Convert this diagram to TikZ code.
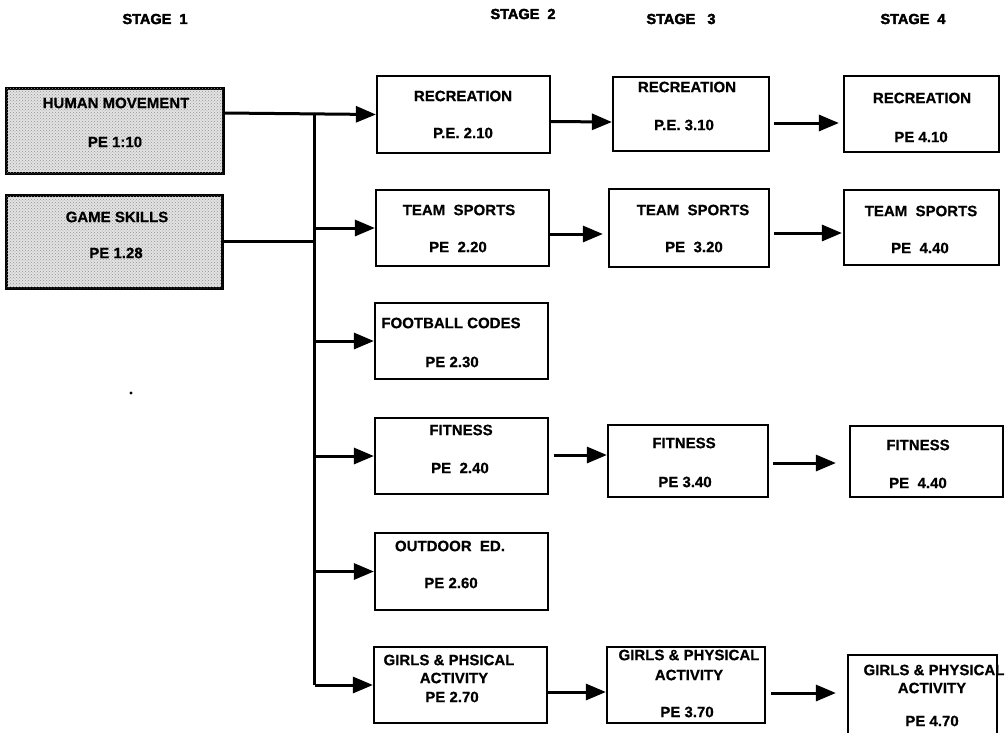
\documentclass[tikz,border=0pt]{standalone}
\usepackage{fontspec}
\setmainfont{Liberation Sans}[BoldFeatures={FakeBold=0.5}]
\newfontfamily\heavyfont{Liberation Sans}[FakeBold=2.5]
\usetikzlibrary{arrows.meta,calc,patterns}
\begin{document}
\begin{tikzpicture}[x=1pt,y=-1pt,
  box/.style={draw, line width=2.2pt, inner sep=0pt},
  stbox/.style={box, line width=3pt, fill=gray!22, postaction={pattern=crosshatch dots, pattern color=gray!85}},
  lbl/.style={font=\fontsize{15}{17}\selectfont\bfseries, inner sep=0pt},
  stage/.style={font=\heavyfont\fontsize{14.5}{16}\selectfont\bfseries, inner sep=0pt},
  line/.style={line width=3pt},
  arr/.style={line width=3pt, -{Triangle[length=20pt,width=16pt]}}
]
\path[use as bounding box] (0,0) rectangle (1006,732);
\clip (0,0) rectangle (1006,732);

% stage headings
\node[stage] (s1) at (155,19) {STAGE\ \ 1};
\node[stage] (s2) at (523,14) {STAGE\ \ 2};
\node[stage] (s3) at (681,19) {STAGE\ \ \ 3};
\node[stage] (s4) at (913,19) {STAGE\ \ 4};

% stage 1 boxes
\node[stbox, minimum width=217pt, minimum height=85pt] (hm) at (114.5,130.5) {};
\node[stbox, minimum width=216pt, minimum height=93pt] (gs) at (114,241.5) {};
\node[lbl] (hmt1) at (116,103) {HUMAN MOVEMENT};
\node[lbl] (hmt2) at (115,142) {PE 1:10};
\node[lbl] (gst1) at (117,217) {GAME SKILLS};
\node[lbl] (gst2) at (116,253) {PE 1.28};

% stage 2 boxes
\node[box, minimum width=173pt, minimum height=77pt] (rec2) at (463.5,114.5) {};
\node[box, minimum width=173pt, minimum height=76pt] (team2) at (462.5,228) {};
\node[box, minimum width=173pt, minimum height=76pt] (foot2) at (461.5,341) {};
\node[box, minimum width=173pt, minimum height=76pt] (fit2) at (461.5,456) {};
\node[box, minimum width=173pt, minimum height=77pt] (out2) at (461.5,571.5) {};
\node[box, minimum width=173pt, minimum height=76pt] (girl2) at (460.5,685) {};

\node[lbl] (rec2t1) at (463,96) {RECREATION};
\node[lbl] (rec2t2) at (463,133) {P.E. 2.10};
\node[lbl] (team2t1) at (459,210) {TEAM\ \ SPORTS};
\node[lbl] (team2t2) at (458,247) {PE\ \ 2.20};
\node[lbl] (foot2t1) at (451,323) {FOOTBALL CODES};
\node[lbl] (foot2t2) at (452,362) {PE 2.30};
\node[lbl] (fit2t1) at (461,430) {FITNESS};
\node[lbl] (fit2t2) at (460,468) {PE\ \ 2.40};
\node[lbl] (out2t1) at (450,546) {OUTDOOR\ \ ED.};
\node[lbl] (out2t2) at (451,583) {PE 2.60};
\node[lbl] (girl2t1) at (449,660) {GIRLS \& PHSICAL};
\node[lbl] (girl2t2) at (454,678) {ACTIVITY};
\node[lbl] (girl2t3) at (452,697) {PE 2.70};

% stage 3 boxes
\node[box, minimum width=156pt, minimum height=74pt] (rec3) at (691,114) {};
\node[box, minimum width=160pt, minimum height=78pt] (team3) at (689,228) {};
\node[box, minimum width=160pt, minimum height=72pt] (fit3) at (688,461) {};
\node[box, minimum width=158pt, minimum height=76pt] (girl3) at (686,685) {};

\node[lbl] (rec3t1) at (687,87) {RECREATION};
\node[lbl] (rec3t2) at (684,125) {P.E. 3.10};
\node[lbl] (team3t1) at (693,210) {TEAM\ \ SPORTS};
\node[lbl] (team3t2) at (694,247) {PE\ \ 3.20};
\node[lbl] (fit3t1) at (684,443) {FITNESS};
\node[lbl] (fit3t2) at (685,482) {PE 3.40};
\node[lbl] (girl3t1) at (689,655) {GIRLS \& PHYSICAL};
\node[lbl] (girl3t2) at (689,675) {ACTIVITY};
\node[lbl] (girl3t3) at (687,712) {PE 3.70};

% stage 4 boxes
\node[box, minimum width=155pt, minimum height=76pt] (rec4) at (921.5,114) {};
\node[box, minimum width=155pt, minimum height=75pt] (team4) at (921.5,227.5) {};
\node[box, minimum width=153pt, minimum height=71pt] (fit4) at (926.5,461.5) {};
\node[box, minimum width=149pt, minimum height=90pt] (girl4) at (922.5,700) {};

\node[lbl] (rec4t1) at (922,98) {RECREATION};
\node[lbl] (rec4t2) at (921,137) {PE 4.10};
\node[lbl] (team4t1) at (921,211) {TEAM\ \ SPORTS};
\node[lbl] (team4t2) at (920,248) {PE\ \ 4.40};
\node[lbl] (fit4t1) at (918,445) {FITNESS};
\node[lbl] (fit4t2) at (918,483) {PE\ \ 4.40};
\node[lbl] (girl4t1) at (934,670) {GIRLS \& PHYSICAL};
\node[lbl] (girl4t2) at (932,688) {ACTIVITY};
\node[lbl] (girl4t3) at (932,721) {PE 4.70};

% trunk
\coordinate (ttop) at ($(hm.east)+(90,-17.5)$);
\coordinate (tbot) at (ttop |- girl2.west);
\draw[line] (ttop) -- (tbot);
\draw[arr] ($(hm.east)+(0,-17.5)$) -- (rec2.west);
\draw[line] (gs.east) -- (gs.east -| ttop);
\draw[arr] (team2.west -| ttop) -- (team2.west);
\draw[arr] (foot2.west -| ttop) -- (foot2.west);
\draw[arr] (fit2.west -| ttop) -- (fit2.west);
\draw[arr] (out2.west -| ttop) -- (out2.west);
\draw[arr] (girl2.west -| ttop) -- (girl2.west);

% stage 2 -> 3
\draw[arr] ($(rec2.east)+(0,7)$) -- ($(rec3.west)+(0,8)$);
\draw[arr] ($(team2.east)+(0,6)$) -- ($(team3.west)+(-5,6)$);
\draw[arr] ($(fit2.east)+(5,-1)$) -- ($(fit3.west)+(0,-6)$);
\draw[arr] ($(girl2.east)+(0,7)$) -- ($(girl3.west)+(0,7)$);

% stage 3 -> 4
\draw[arr] ($(rec3.east)+(4,9)$) -- ($(rec4.west)+(-4,9)$);
\draw[arr] ($(team3.east)+(4,5)$) -- ($(team4.west)+(-1,5.5)$);
\draw[arr] ($(fit3.east)+(4,2)$) -- ($(fit4.west)+(-13,1.5)$);
\draw[arr] ($(girl3.east)+(5,8)$) -- ($(girl4.west)+(-11,-7)$);

% stray dot
\fill (131,393) circle (1.6pt);
\end{tikzpicture}
\end{document}
